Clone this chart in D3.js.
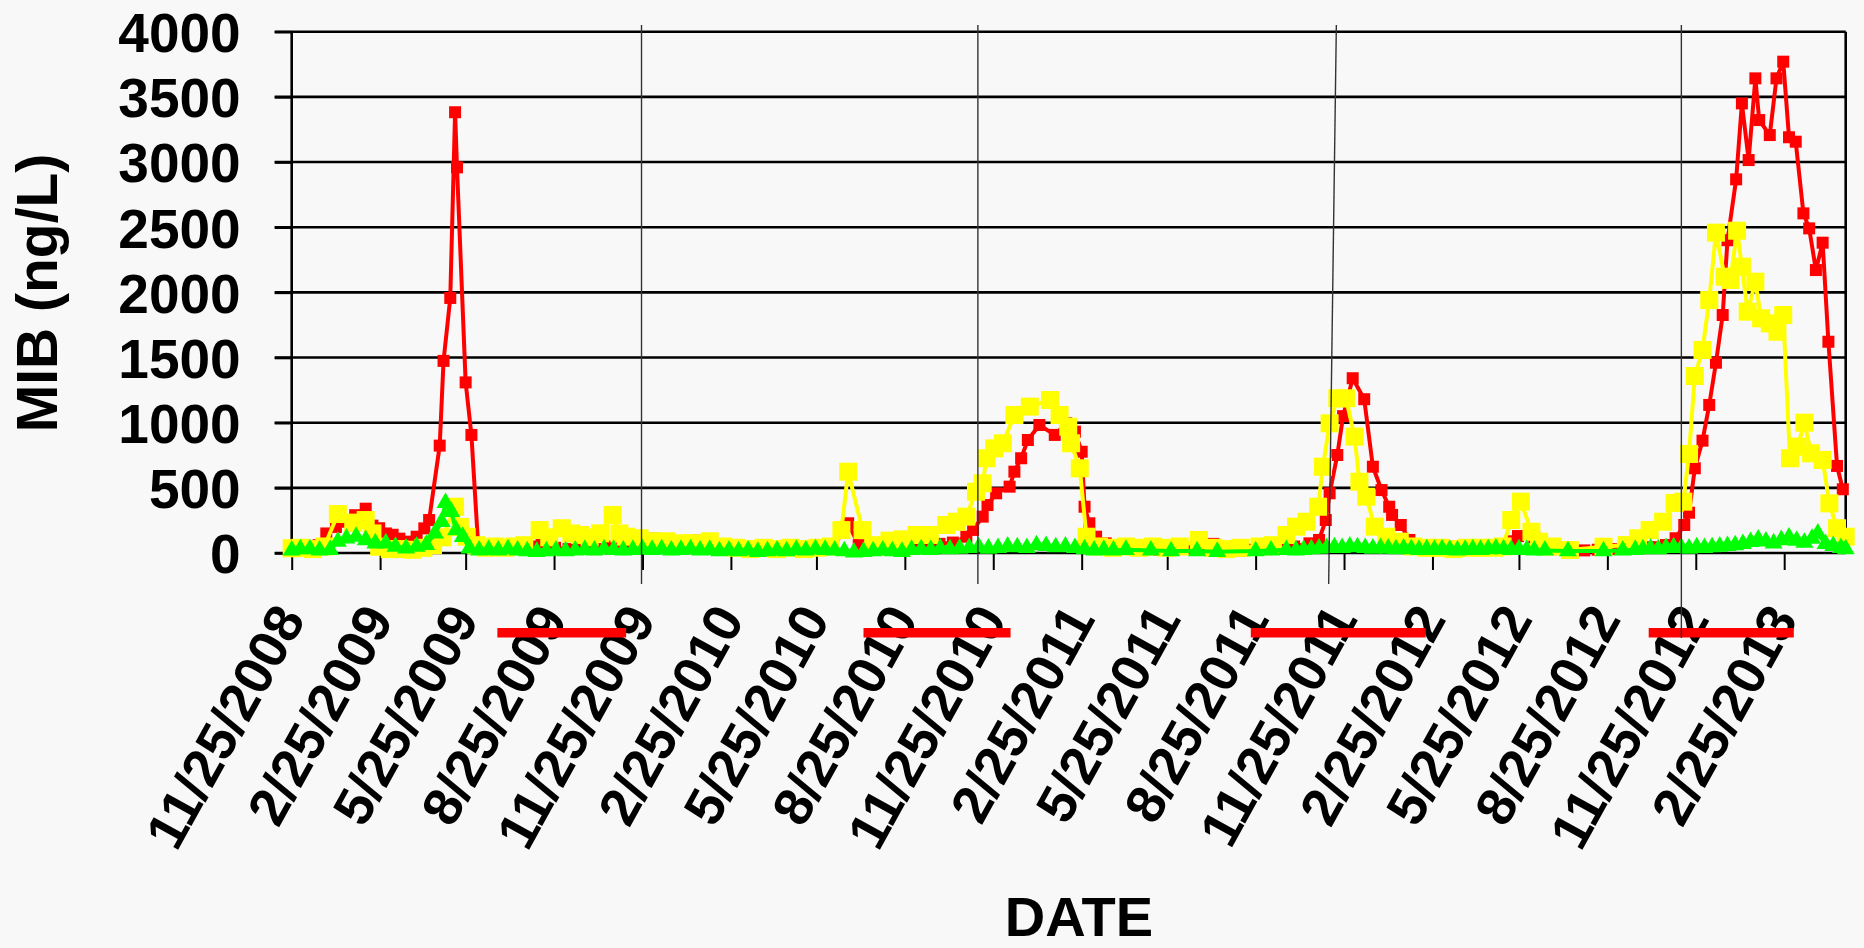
<!doctype html>
<html lang="en">
<head>
<meta charset="utf-8">
<title>MIB (ng/L) by date</title>
<script src="https://d3js.org/d3.v7.min.js"></script>
<style>
  html, body { margin: 0; padding: 0; background: #f8f8f8; }
  svg { display: block; }
  text { font-family: "Liberation Sans", Arial, sans-serif; font-weight: bold; fill: #000; }
</style>
</head>
<body>
<div id="chart"></div>
<script>
// ---- data (date, MIB ng/L) ----
var redSeries = [
  ["2008-11-25", 20], ["2008-12-09", 30], ["2008-12-23", 60], ["2008-12-31", 150],
  ["2009-01-10", 200], ["2009-01-20", 240], ["2009-01-30", 290], ["2009-02-10", 340],
  ["2009-02-17", 210], ["2009-02-24", 190], ["2009-03-03", 150], ["2009-03-10", 140],
  ["2009-03-17", 110], ["2009-03-24", 87], ["2009-04-04", 125], ["2009-04-12", 189],
  ["2009-04-17", 253], ["2009-04-28", 824], ["2009-05-02", 1474], ["2009-05-09", 1957],
  ["2009-05-14", 3382], ["2009-05-16", 2959], ["2009-05-25", 1309], ["2009-05-31", 906],
  ["2009-06-07", 60], ["2009-06-21", 40], ["2009-07-05", 30], ["2009-07-19", 40],
  ["2009-08-02", 50], ["2009-08-12", 80], ["2009-08-26", 40], ["2009-09-09", 30],
  ["2009-09-23", 40], ["2009-10-07", 30], ["2009-10-21", 50], ["2009-11-04", 40],
  ["2009-11-18", 60], ["2009-12-06", 110], ["2009-12-20", 70], ["2010-01-05", 60],
  ["2010-01-22", 95], ["2010-02-05", 60], ["2010-02-19", 40], ["2010-03-05", 30],
  ["2010-03-19", 20], ["2010-04-02", 25], ["2010-04-16", 20], ["2010-04-30", 30],
  ["2010-05-14", 25], ["2010-05-28", 30], ["2010-06-11", 40], ["2010-06-27", 228],
  ["2010-07-08", 60], ["2010-07-22", 40], ["2010-08-05", 30], ["2010-08-19", 40],
  ["2010-09-02", 50], ["2010-09-16", 60], ["2010-09-30", 70], ["2010-10-14", 80],
  ["2010-10-28", 125], ["2010-11-04", 177], ["2010-11-14", 279], ["2010-11-19", 368],
  ["2010-11-28", 458], ["2010-12-12", 509], ["2010-12-17", 624], ["2010-12-24", 727],
  ["2010-12-31", 867], ["2011-01-12", 982], ["2011-01-28", 906], ["2011-02-09", 995],
  ["2011-02-18", 931], ["2011-02-25", 777], ["2011-02-28", 355], ["2011-03-05", 228],
  ["2011-03-12", 125], ["2011-03-22", 74], ["2011-04-05", 40], ["2011-04-19", 30],
  ["2011-05-03", 30], ["2011-05-17", 25], ["2011-05-31", 30], ["2011-06-14", 40],
  ["2011-06-28", 60], ["2011-07-12", 70], ["2011-07-26", 30], ["2011-08-09", 20],
  ["2011-08-23", 25], ["2011-09-06", 30], ["2011-09-20", 40], ["2011-10-04", 50],
  ["2011-10-20", 74], ["2011-10-30", 100], ["2011-11-06", 253], ["2011-11-10", 458],
  ["2011-11-18", 752], ["2011-11-24", 1050], ["2011-12-04", 1341], ["2011-12-16", 1180],
  ["2011-12-25", 662], ["2012-01-03", 483], ["2012-01-11", 355], ["2012-01-14", 292],
  ["2012-01-23", 215], ["2012-02-01", 100], ["2012-02-10", 40], ["2012-02-24", 30],
  ["2012-03-09", 25], ["2012-03-23", 20], ["2012-04-06", 30], ["2012-04-20", 25],
  ["2012-05-04", 40], ["2012-05-17", 90], ["2012-05-24", 130], ["2012-06-10", 120],
  ["2012-06-20", 40], ["2012-07-04", 30], ["2012-07-18", 25], ["2012-08-01", 20],
  ["2012-08-15", 25], ["2012-08-29", 30], ["2012-09-12", 35], ["2012-09-26", 40],
  ["2012-10-10", 45], ["2012-10-25", 61], ["2012-11-04", 113], ["2012-11-13", 215],
  ["2012-11-18", 309], ["2012-11-24", 650], ["2012-12-02", 862], ["2012-12-09", 1136],
  ["2012-12-16", 1460], ["2012-12-23", 1826], ["2012-12-28", 2400], ["2013-01-06", 2867],
  ["2013-01-12", 3450], ["2013-01-19", 3015], ["2013-01-26", 3642], ["2013-01-30", 3322],
  ["2013-02-10", 3207], ["2013-02-17", 3642], ["2013-02-24", 3770], ["2013-03-02", 3190],
  ["2013-03-09", 3156], ["2013-03-17", 2606], ["2013-03-23", 2491], ["2013-03-30", 2171],
  ["2013-04-06", 2381], ["2013-04-12", 1621], ["2013-04-21", 668], ["2013-04-27", 489]
];

var yellowSeries = [
  ["2008-11-25", 36], ["2008-12-04", 40], ["2008-12-17", 30], ["2008-12-29", 50],
  ["2009-01-12", 299], ["2009-01-28", 233], ["2009-02-10", 253], ["2009-02-17", 150],
  ["2009-02-24", 48], ["2009-03-07", 30], ["2009-03-17", 30], ["2009-03-31", 25],
  ["2009-04-11", 40], ["2009-04-21", 60], ["2009-05-01", 120], ["2009-05-14", 355],
  ["2009-05-19", 200], ["2009-05-26", 125], ["2009-06-05", 60], ["2009-06-15", 40],
  ["2009-06-25", 50], ["2009-07-05", 40], ["2009-07-15", 50], ["2009-07-25", 60],
  ["2009-08-10", 176], ["2009-08-20", 120], ["2009-09-02", 190], ["2009-09-12", 150],
  ["2009-09-21", 138], ["2009-10-01", 120], ["2009-10-12", 151], ["2009-10-25", 292],
  ["2009-11-01", 150], ["2009-11-08", 125], ["2009-11-22", 113], ["2009-12-06", 90],
  ["2009-12-20", 90], ["2010-01-03", 75], ["2010-01-17", 75], ["2010-02-03", 90],
  ["2010-02-17", 50], ["2010-03-03", 40], ["2010-03-17", 30], ["2010-03-31", 40],
  ["2010-04-14", 30], ["2010-04-28", 40], ["2010-05-12", 30], ["2010-05-26", 40],
  ["2010-06-09", 50], ["2010-06-20", 176], ["2010-06-27", 624], ["2010-07-12", 176],
  ["2010-07-23", 60], ["2010-08-09", 95], ["2010-08-23", 105], ["2010-09-06", 138],
  ["2010-09-20", 138], ["2010-10-07", 215], ["2010-10-18", 240], ["2010-10-28", 279],
  ["2010-11-07", 470], ["2010-11-14", 535], ["2010-11-18", 727], ["2010-11-26", 803],
  ["2010-12-05", 842], ["2010-12-17", 1059], ["2011-01-02", 1123], ["2011-01-23", 1174],
  ["2011-02-02", 1059], ["2011-02-11", 969], ["2011-02-14", 842], ["2011-02-23", 650],
  ["2011-03-02", 125], ["2011-03-15", 50], ["2011-03-29", 40], ["2011-04-12", 50],
  ["2011-04-26", 40], ["2011-05-10", 50], ["2011-05-24", 40], ["2011-06-07", 50],
  ["2011-06-27", 100], ["2011-07-12", 40], ["2011-07-26", 30], ["2011-08-09", 40],
  ["2011-08-29", 50], ["2011-09-12", 60], ["2011-09-26", 138], ["2011-10-06", 202],
  ["2011-10-17", 240], ["2011-10-29", 355], ["2011-11-03", 662], ["2011-11-10", 995],
  ["2011-11-18", 1187], ["2011-11-27", 1187], ["2011-12-06", 893], ["2011-12-11", 547],
  ["2011-12-18", 432], ["2011-12-27", 202], ["2012-01-08", 125], ["2012-01-22", 87],
  ["2012-02-05", 50], ["2012-02-19", 40], ["2012-03-04", 40], ["2012-03-18", 30],
  ["2012-04-01", 40], ["2012-04-15", 40], ["2012-04-29", 40], ["2012-05-08", 50],
  ["2012-05-17", 253], ["2012-05-27", 394], ["2012-06-07", 163], ["2012-06-15", 87],
  ["2012-06-29", 50], ["2012-07-17", 23], ["2012-08-21", 48], ["2012-09-14", 61],
  ["2012-09-26", 113], ["2012-10-08", 176], ["2012-10-22", 240], ["2012-11-03", 384],
  ["2012-11-12", 394], ["2012-11-18", 760], ["2012-11-24", 1358], ["2012-12-02", 1558],
  ["2012-12-09", 1941], ["2012-12-16", 2458], ["2012-12-25", 2120], ["2012-12-31", 2095],
  ["2013-01-07", 2473], ["2013-01-12", 2197], ["2013-01-18", 1852], ["2013-01-26", 2082],
  ["2013-02-01", 1801], ["2013-02-10", 1762], ["2013-02-18", 1698], ["2013-02-24", 1826],
  ["2013-03-03", 727], ["2013-03-11", 816], ["2013-03-18", 1000], ["2013-03-25", 765],
  ["2013-04-06", 714], ["2013-04-13", 381], ["2013-04-21", 190], ["2013-04-30", 125]
];

var greenSeries = [
  ["2008-11-25", 20], ["2008-12-04", 30], ["2008-12-14", 30], ["2008-12-24", 20],
  ["2009-01-04", 25], ["2009-01-12", 87], ["2009-01-21", 113], ["2009-01-31", 126],
  ["2009-02-10", 100], ["2009-02-20", 75], ["2009-03-03", 75], ["2009-03-13", 49],
  ["2009-03-24", 36], ["2009-04-04", 49], ["2009-04-14", 62], ["2009-04-23", 151],
  ["2009-04-30", 240], ["2009-05-04", 385], ["2009-05-10", 317], ["2009-05-15", 176],
  ["2009-05-22", 125], ["2009-05-29", 36], ["2009-06-08", 20], ["2009-06-18", 25],
  ["2009-06-28", 20], ["2009-07-08", 30], ["2009-07-18", 20], ["2009-07-28", 15],
  ["2009-08-07", 10], ["2009-08-17", 15], ["2009-08-27", 20], ["2009-09-06", 15],
  ["2009-09-16", 20], ["2009-09-26", 25], ["2009-10-06", 20], ["2009-10-16", 30],
  ["2009-10-26", 25], ["2009-11-05", 20], ["2009-11-15", 25], ["2009-11-25", 30],
  ["2009-12-05", 25], ["2009-12-15", 30], ["2009-12-25", 20], ["2010-01-04", 25],
  ["2010-01-14", 30], ["2010-01-24", 20], ["2010-02-03", 25], ["2010-02-13", 15],
  ["2010-02-23", 20], ["2010-03-05", 15], ["2010-03-15", 20], ["2010-03-25", 10],
  ["2010-04-04", 15], ["2010-04-14", 20], ["2010-04-24", 15], ["2010-05-04", 25],
  ["2010-05-14", 20], ["2010-05-24", 30], ["2010-06-03", 25], ["2010-06-13", 20],
  ["2010-06-23", 15], ["2010-07-03", 5], ["2010-07-13", 10], ["2010-07-23", 15],
  ["2010-08-02", 20], ["2010-08-12", 15], ["2010-08-22", 10], ["2010-09-01", 25],
  ["2010-09-11", 30], ["2010-09-21", 25], ["2010-10-01", 35], ["2010-10-11", 30],
  ["2010-10-21", 35], ["2010-10-31", 40], ["2010-11-10", 45], ["2010-11-20", 35],
  ["2010-11-30", 40], ["2010-12-10", 50], ["2010-12-20", 45], ["2010-12-30", 40],
  ["2011-01-09", 60], ["2011-01-19", 55], ["2011-01-29", 45], ["2011-02-08", 50],
  ["2011-02-18", 40], ["2011-02-28", 30], ["2011-03-10", 20], ["2011-03-20", 25],
  ["2011-03-30", 20], ["2011-04-12", 25], ["2011-05-08", 20], ["2011-05-29", 15],
  ["2011-06-25", 15], ["2011-07-16", 10], ["2011-08-25", 15], ["2011-09-10", 20],
  ["2011-09-26", 25], ["2011-10-06", 20], ["2011-10-14", 25], ["2011-10-22", 30],
  ["2011-10-30", 35], ["2011-11-07", 40], ["2011-11-15", 45], ["2011-11-23", 40],
  ["2011-12-01", 50], ["2011-12-09", 45], ["2011-12-17", 40], ["2011-12-25", 35],
  ["2012-01-02", 40], ["2012-01-10", 35], ["2012-01-18", 30], ["2012-01-26", 35],
  ["2012-02-03", 30], ["2012-02-11", 25], ["2012-02-19", 30], ["2012-02-27", 25],
  ["2012-03-06", 30], ["2012-03-14", 25], ["2012-03-22", 20], ["2012-03-30", 25],
  ["2012-04-07", 30], ["2012-04-15", 25], ["2012-04-23", 30], ["2012-05-01", 35],
  ["2012-05-09", 30], ["2012-05-17", 25], ["2012-05-25", 30], ["2012-06-02", 25],
  ["2012-06-10", 20], ["2012-06-21", 20], ["2012-07-15", 15], ["2012-08-21", 15],
  ["2012-09-10", 20], ["2012-09-23", 25], ["2012-10-01", 30], ["2012-10-09", 35],
  ["2012-10-17", 30], ["2012-10-25", 40], ["2012-11-02", 45], ["2012-11-10", 40],
  ["2012-11-18", 35], ["2012-11-26", 45], ["2012-12-04", 40], ["2012-12-12", 45],
  ["2012-12-20", 50], ["2012-12-28", 55], ["2013-01-05", 60], ["2013-01-13", 70],
  ["2013-01-21", 85], ["2013-01-29", 105], ["2013-02-06", 90], ["2013-02-14", 75],
  ["2013-02-22", 100], ["2013-03-02", 120], ["2013-03-10", 95], ["2013-03-18", 80],
  ["2013-03-26", 110], ["2013-04-01", 150], ["2013-04-09", 70], ["2013-04-17", 55],
  ["2013-04-25", 40], ["2013-04-30", 30]
];

// axis ticks
var xTickDates = ["2008-11-25", "2009-02-25", "2009-05-25", "2009-08-25", "2009-11-25",
  "2010-02-25", "2010-05-25", "2010-08-25", "2010-11-25", "2011-02-25", "2011-05-25",
  "2011-08-25", "2011-11-25", "2012-02-25", "2012-05-25", "2012-08-25", "2012-11-25",
  "2013-02-25"];
var yTicks = [0, 500, 1000, 1500, 2000, 2500, 3000, 3500, 4000];
var xDomain = ["2008-11-25", "2013-04-30"];

// thin vertical marker lines (top date, bottom date)
var markerTop = ["2009-11-24", "2010-11-09", "2011-11-17", "2012-11-10"];
var markerBottom = ["2009-11-24", "2010-11-09", "2011-11-09", "2012-11-10"];
// red bars under the axis (start, end)
var barStart = ["2009-06-27", "2010-07-13", "2011-08-20", "2012-10-07"];
var barEnd = ["2009-11-08", "2010-12-13", "2012-02-18", "2013-03-07"];

// ---- layout ----
var margin = {top: 31.7, right: 18.3, bottom: 395, left: 291.7},
    width = 1864 - margin.left - margin.right,
    height = 948 - margin.top - margin.bottom;

var parse = d3.timeParse("%Y-%m-%d");
function toPoints(arr) {
  return arr.map(function(d) { return {date: parse(d[0]), value: d[1]}; });
}

var x = d3.scaleTime().domain(xDomain.map(parse)).range([0, width]);
var y = d3.scaleLinear().domain([0, 4000]).range([height, 0]);

var svg = d3.select("#chart").append("svg")
  .attr("width", 1864)
  .attr("height", 948);

svg.append("rect").attr("width", 1864).attr("height", 948).attr("fill", "#f8f8f8");

var g = svg.append("g")
  .attr("transform", "translate(" + margin.left + "," + margin.top + ")");

// gridlines
g.selectAll("line.grid")
  .data(yTicks)
  .enter().append("line")
  .attr("class", "grid")
  .attr("x1", -17).attr("x2", width)
  .attr("y1", function(d) { return y(d); })
  .attr("y2", function(d) { return y(d); })
  .attr("stroke", "#000")
  .attr("stroke-width", 2.6);

// frame (left axis + right border)
g.append("line").attr("x1", 0).attr("x2", 0).attr("y1", 0).attr("y2", height)
  .attr("stroke", "#000").attr("stroke-width", 2.6);
g.append("line").attr("x1", width).attr("x2", width).attr("y1", 0).attr("y2", height)
  .attr("stroke", "#000").attr("stroke-width", 2.6);

// y axis labels
var yAxis = g.append("g")
  .call(d3.axisLeft(y).tickValues(yTicks).tickSize(17).tickPadding(34).tickFormat(d3.format("d")));
yAxis.select(".domain").remove();
yAxis.selectAll("line").attr("stroke-width", 2.6);
yAxis.attr("font-size", 55).attr("font-family", null);
yAxis.selectAll("text").attr("dy", "0.36em");

// x axis
var xAxis = g.append("g")
  .attr("transform", "translate(0," + height + ")")
  .call(d3.axisBottom(x)
    .tickValues(xTickDates.map(parse))
    .tickSize(17)
    .tickSizeOuter(0)
    .tickFormat(d3.timeFormat("%-m/%d/%Y")));
xAxis.select(".domain").remove();
xAxis.selectAll("line").attr("stroke-width", 2);
xAxis.attr("font-size", 54).attr("font-family", null);
xAxis.selectAll("text")
  .attr("x", 0).attr("y", 0).attr("dy", 0)
  .attr("text-anchor", "end")
  .attr("transform", "translate(14,66) rotate(-61)");

// series: line then markers
var line = d3.line()
  .x(function(d) { return x(d.date); })
  .y(function(d) { return y(d.value); });

function drawSeries(arr, color, symbolType, symbolSize) {
  var pts = toPoints(arr);
  var sg = g.append("g");
  sg.append("path")
    .datum(pts)
    .attr("fill", "none")
    .attr("stroke", color)
    .attr("stroke-width", 4)
    .attr("stroke-linejoin", "round")
    .attr("d", line);
  sg.selectAll("path.pt")
    .data(pts)
    .enter().append("path")
    .attr("class", "pt")
    .attr("transform", function(d) { return "translate(" + x(d.date) + "," + y(d.value) + ")"; })
    .attr("d", d3.symbol().type(symbolType).size(symbolSize))
    .attr("fill", color);
}

drawSeries(redSeries, "#ff0000", d3.symbolSquare, 144);
drawSeries(yellowSeries, "#ffff00", d3.symbolSquare, 324);
drawSeries(greenSeries, "#00ff00", d3.symbolTriangle, 140);

// red bars below the axis
g.selectAll("rect.bar")
  .data(barStart)
  .enter().append("rect")
  .attr("class", "bar")
  .attr("x", function(d) { return x(parse(d)); })
  .attr("width", function(d, i) { return x(parse(barEnd[i])) - x(parse(d)); })
  .attr("y", 596.3)
  .attr("height", 9.5)
  .attr("fill", "#ff0000");

// vertical marker lines
var markerBottomY = [552.3, 552.3, 552.3, 606.3];
g.selectAll("line.marker")
  .data(markerTop)
  .enter().append("line")
  .attr("class", "marker")
  .attr("x1", function(d) { return x(parse(d)); })
  .attr("x2", function(d, i) { return x(parse(markerBottom[i])); })
  .attr("y1", -6.7)
  .attr("y2", function(d, i) { return markerBottomY[i]; })
  .attr("stroke", "#333")
  .attr("stroke-width", 1.4);

// axis titles
svg.append("text")
  .attr("transform", "translate(57,293) rotate(-90)")
  .attr("text-anchor", "middle")
  .attr("font-size", 57)
  .text("MIB (ng/L)");

svg.append("text")
  .attr("x", 1079)
  .attr("y", 936)
  .attr("text-anchor", "middle")
  .attr("font-size", 56)
  .text("DATE");
</script>
</body>
</html>
